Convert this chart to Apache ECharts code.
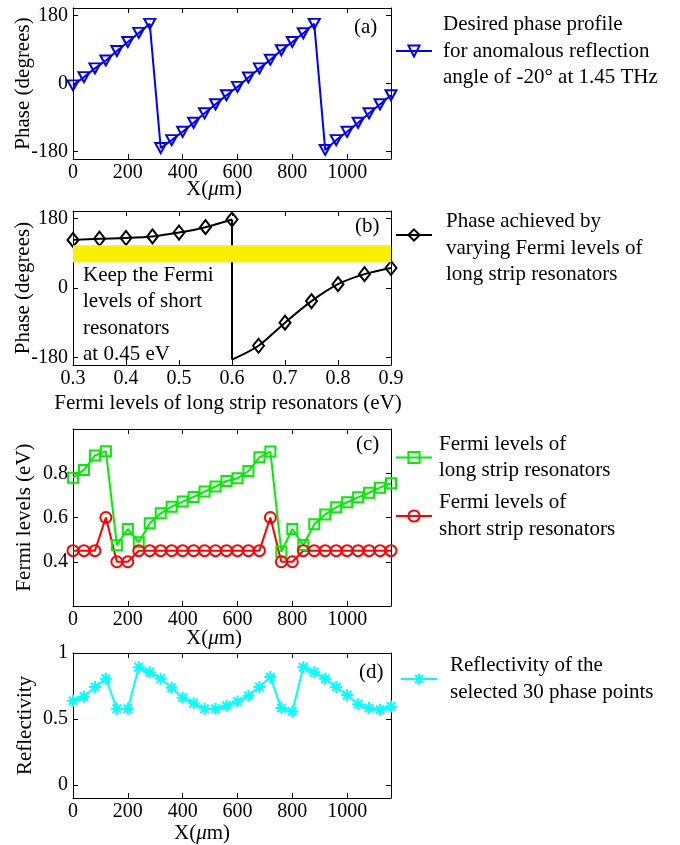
<!DOCTYPE html>
<html>
<head>
<meta charset="utf-8">
<script src="https://cdn.jsdelivr.net/npm/echarts@6/dist/echarts.min.js"></script>
<style>
  html, body { margin: 0; padding: 0; background: #fff; }
  #chart { width: 680px; height: 845px; }
</style>
</head>
<body>
<div id="chart"></div>
<script>
// ---- data ----------------------------------------------------------------
// element positions along the metasurface (µm), 40 µm pitch, 30 elements
const positionsUm = [0, 40, 80, 120, 160, 200, 240, 280, 320, 360, 400, 440, 480, 520, 560,
                     600, 640, 680, 720, 760, 800, 840, 880, 920, 960, 1000, 1040, 1080, 1120, 1160];
const xTicksUm = [0, 200, 400, 600, 800, 1000];

// (a) desired phase profile (degrees)
const desiredPhase = [-5, 17, 40, 61, 86, 110, 134, 158, -171, -150, -128, -104, -79, -55, -31,
                      -9, 16, 40, 63, 88, 110, 133, 158, -176, -150, -128, -104, -79, -55, -31];
const phaseTicks = [-180, 0, 180];

// (b) phase achieved vs Fermi level of the long strip resonators
const fermiLongSweep = [0.3, 0.35, 0.4, 0.45, 0.5, 0.55, 0.6, 0.65, 0.7, 0.75, 0.8, 0.85, 0.9];
const phaseAchieved = [125, 128, 130, 134, 144, 158, 178, -150, -90, -34, 10, 36, 52];
const wrapFermi = 0.6;           // phase wraps from +180 to -180 here
const wrappedPhaseAtWrap = -186; // curve value just after the wrap
const fermiTicks = [0.3, 0.4, 0.5, 0.6, 0.7, 0.8, 0.9];
const unusedPhaseBand = [67, 111]; // phase range not covered by the sweep

// (c) Fermi levels assigned to each element (eV)
const fermiLong = [0.78, 0.815, 0.88, 0.90, 0.475, 0.548, 0.488, 0.574, 0.619, 0.649, 0.672, 0.693, 0.717, 0.740, 0.765,
                   0.777, 0.810, 0.872, 0.898, 0.445, 0.548, 0.476, 0.569, 0.614, 0.646, 0.669, 0.691, 0.712, 0.735, 0.755];
const fermiShort = [0.45, 0.45, 0.45, 0.60, 0.40, 0.40, 0.45, 0.45, 0.45, 0.45, 0.45, 0.45, 0.45, 0.45, 0.45,
                    0.45, 0.45, 0.45, 0.60, 0.40, 0.40, 0.45, 0.45, 0.45, 0.45, 0.45, 0.45, 0.45, 0.45, 0.45];
const fermiTicksC = [0.4, 0.6, 0.8];

// (d) reflectivity of each element
const reflectivity = [0.637, 0.669, 0.743, 0.805, 0.577, 0.577, 0.892, 0.854, 0.805, 0.736, 0.661, 0.619, 0.577, 0.577, 0.600,
                      0.632, 0.676, 0.743, 0.817, 0.582, 0.557, 0.892, 0.854, 0.805, 0.743, 0.681, 0.612, 0.582, 0.570, 0.594];
const reflTicks = [0, 0.5, 1];

// ---- legend texts ------------------------------------------------------------
const NAME_A = 'Desired phase profile\nfor anomalous reflection\nangle of -20° at 1.45 THz';
const NAME_B = 'Phase achieved by\nvarying Fermi levels of\nlong strip resonators';
const NAME_C1 = 'Fermi levels of\nlong strip resonators';
const NAME_C2 = 'Fermi levels of\nshort strip resonators';
const NAME_D = 'Reflectivity of the\nselected 30 phase points';

// ---- styling -------------------------------------------------------------
const SERIF = '"Liberation Serif", "Times New Roman", serif';
const BLUE = '#0000ff', BLACK = '#000000', GREEN = '#00ee00', RED = '#ff0000', CYAN = '#00ffff';
const NONE = 'rgba(0,0,0,0)';
const ASTERISK = 'path://M0,-10L0,10M-10,0L10,0M-7,-7L7,7M-7,7L7,-7';
const plainNumber = v => String(v);

const pair = (xs, ys) => xs.map((x, i) => [x, ys[i]]);

const grids = [
  { left: 73, top: 8, width: 318, height: 151 },
  { left: 73, top: 211, width: 318, height: 154 },
  { left: 73, top: 429, width: 318, height: 177 },
  { left: 73, top: 653, width: 318, height: 146 }
];

function boxAxis(extra) {
  return Object.assign({
    axisLine: { show: true, onZero: false, lineStyle: { color: BLACK, width: 1 } },
    splitLine: { show: false },
    nameMoveOverlap: false,
    nameTextStyle: { color: BLACK, fontFamily: SERIF, fontSize: 21 }
  }, extra);
}

const tickStyle = ticks => ({ show: true, inside: true, length: 5, customValues: ticks, lineStyle: { color: BLACK, width: 1 } });

function xPair(grid, min, max, ticks, name, gap, shift) {
  const bottom = boxAxis({
    type: 'value', gridIndex: grid, position: 'bottom', min: min, max: max,
    axisTick: tickStyle(ticks),
    axisLabel: { color: BLACK, fontFamily: SERIF, fontSize: 20, margin: 4, customValues: ticks, formatter: plainNumber },
    name: name, nameLocation: 'middle', nameGap: gap,
    nameTextStyle: {
      color: BLACK, fontFamily: SERIF, fontSize: 21, padding: [0, shift, 0, 0],
      rich: { i: { fontStyle: 'italic', fontFamily: SERIF, fontSize: 21, color: BLACK } }
    }
  });
  const top = boxAxis({
    type: 'value', gridIndex: grid, position: 'top', min: min, max: max,
    axisTick: tickStyle(ticks),
    axisLabel: { show: false }
  });
  return [bottom, top];
}

function yPair(grid, min, max, ticks, name, gap) {
  const left = boxAxis({
    type: 'value', gridIndex: grid, position: 'left', min: min, max: max,
    axisTick: tickStyle(ticks),
    axisLabel: { color: BLACK, fontFamily: SERIF, fontSize: 20, margin: 5, customValues: ticks, formatter: plainNumber },
    name: name, nameLocation: 'middle', nameGap: gap, nameRotate: 90
  });
  const right = boxAxis({
    type: 'value', gridIndex: grid, position: 'right', min: min, max: max,
    axisTick: tickStyle(ticks),
    axisLabel: { show: false }
  });
  return [left, right];
}

const xAxes = [].concat(
  xPair(0, 0, 1160, xTicksUm, 'X({i|μ}m)', 20, 36),
  xPair(1, 0.3, 0.9, fermiTicks, 'Fermi levels of long strip resonators (eV)', 28, 8),
  xPair(2, 0, 1160, xTicksUm, 'X({i|μ}m)', 22, 36),
  xPair(3, 0, 1160, xTicksUm, 'X({i|μ}m)', 25, 60)
);
const yAxes = [].concat(
  yPair(0, -200, 200, phaseTicks, 'Phase (degrees)', 39),
  yPair(1, -200, 200, phaseTicks, 'Phase (degrees)', 39),
  yPair(2, 0.2, 1.0, fermiTicksC, 'Fermi levels (eV)', 38),
  yPair(3, -0.1, 1.0, reflTicks, 'Reflectivity', 37)
);

function lineSeries(name, axis, data, color, symbol, size, extra) {
  return Object.assign({
    type: 'line', name: name, xAxisIndex: axis * 2, yAxisIndex: axis * 2,
    data: data, symbol: symbol, symbolSize: size, showAllSymbol: true,
    lineStyle: { color: color, width: 2 },
    itemStyle: { color: NONE, borderColor: color, borderWidth: 2 },
    emphasis: { disabled: true }, z: 3
  }, extra || {});
}

const series = [
  // (a)
  lineSeries(NAME_A, 0, pair(positionsUm, desiredPhase), BLUE, 'triangle', [11, 10], { symbolRotate: 180 }),
  // (b) sweep before the wrap
  lineSeries(NAME_B, 1, pair(fermiLongSweep.slice(0, 7), phaseAchieved.slice(0, 7)), BLACK, 'diamond', [11, 14], { smooth: 0.3 }),
  // (b) the wrap itself
  lineSeries(NAME_B, 1, [[wrapFermi, phaseAchieved[6]], [wrapFermi, wrappedPhaseAtWrap]], BLACK, 'none', 0),
  // (b) sweep after the wrap
  lineSeries(NAME_B, 1,
    [{ value: [wrapFermi, wrappedPhaseAtWrap], symbol: 'none' }].concat(pair(fermiLongSweep.slice(7), phaseAchieved.slice(7))),
    BLACK, 'diamond', [11, 14], { smooth: 0.3 }),
  // (b) unreachable phase band
  {
    type: 'line', name: 'band', xAxisIndex: 2, yAxisIndex: 2, data: [], z: 10,
    markArea: {
      z: 10, silent: true,
      itemStyle: { color: '#f9f000', opacity: 1 },
      data: [[{ yAxis: unusedPhaseBand[0] }, { yAxis: unusedPhaseBand[1] }]]
    }
  },
  // (c)
  lineSeries(NAME_C1, 2, pair(positionsUm, fermiLong), GREEN, 'rect', 10),
  lineSeries(NAME_C2, 2, pair(positionsUm, fermiShort), RED, 'circle', 11),
  // (d)
  lineSeries(NAME_D, 3, pair(positionsUm, reflectivity), CYAN, ASTERISK, 12,
    { itemStyle: { color: CYAN, borderColor: CYAN, borderWidth: 2 } })
];

const LH = 26.5;
function legendFor(name, left, top, padLeft, formatter) {
  return {
    data: [name], left: left, top: top, padding: 0, itemWidth: 36, itemHeight: 14,
    selectedMode: false, orient: 'vertical',
    formatter: formatter,
    textStyle: {
      color: BLACK, fontFamily: SERIF, fontSize: 21, lineHeight: LH,
      padding: [0, 0, 0, padLeft]
    }
  };
}

const legends = [
  legendFor(NAME_A, 395, 51 - 1.5 * LH, 6),
  // blank first line pushes the text block below the key line
  legendFor(NAME_B, 395, 235 - 2 * LH, 9, n => '\n' + n),
  legendFor(NAME_C1, 395, 457.5 - LH, 2),
  legendFor(NAME_C2, 395, 516 - LH, 2),
  legendFor(NAME_D, 400, 679 - LH, 8)
];

const panelTag = (t, x, y) => ({
  type: 'text', left: x, top: y,
  style: { text: t, font: '21px ' + SERIF, fill: BLACK }
});

const chart = echarts.init(document.getElementById('chart'), null, { renderer: 'canvas' });
chart.setOption({
  animation: false,
  backgroundColor: '#ffffff',
  grid: grids,
  xAxis: xAxes,
  yAxis: yAxes,
  legend: legends,
  series: series,
  graphic: [
    panelTag('(a)', 354, 17),
    panelTag('(b)', 355, 216),
    panelTag('(c)', 356, 434),
    panelTag('(d)', 359, 662),
    {
      type: 'text', left: 83, top: 262,
      style: {
        text: 'Keep the Fermi\nlevels of short\nresonators\nat 0.45 eV',
        font: '21px ' + SERIF, fill: BLACK, lineHeight: 26.5
      }
    }
  ]
});
</script>
</body>
</html>
